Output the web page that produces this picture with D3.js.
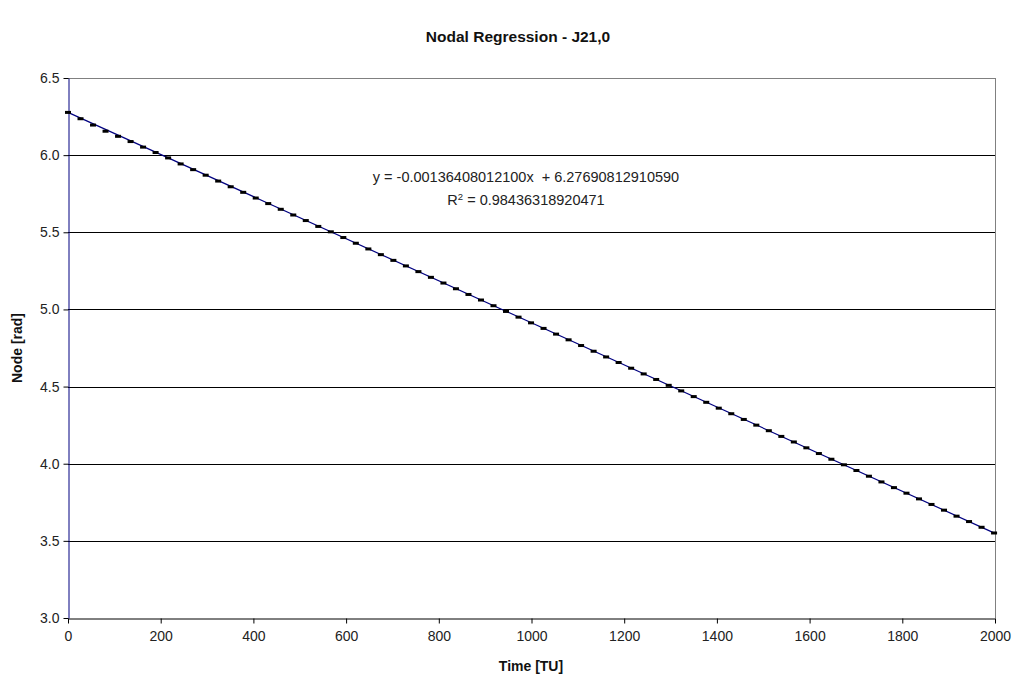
<!DOCTYPE html>
<html><head><meta charset="utf-8">
<script src="https://cdn.jsdelivr.net/npm/d3@7"></script>
<style>
html,body{margin:0;padding:0;background:#fff;}
text{font-family:"Liberation Sans",Arial,sans-serif;white-space:pre;}
</style></head>
<body>
<svg id="chart" width="1014" height="680"></svg>
<script>
const title = "Nodal Regression - J21,0";
const xTitle = "Time [TU]";
const yTitle = "Node [rad]";
const xTicks = [0,200,400,600,800,1000,1200,1400,1600,1800,2000];
const yTicks = [3.0,3.5,4.0,4.5,5.0,5.5,6.0,6.5];
const times = [0,27,54,81,108,135,162,189,216,243,270,297,324,351,378,405,432,459,486,513,540,567,594,621,648,675,702,729,756,783,810,837,864,891,918,945,972,999,1026,1053,1080,1107,1134,1161,1188,1215,1242,1269,1296,1323,1350,1377,1404,1431,1458,1485,1512,1539,1566,1593,1620,1647,1674,1701,1728,1755,1782,1809,1836,1863,1890,1917,1944,1971,1998];
const nodes = [6.277,6.236,6.195,6.155,6.122,6.088,6.052,6.017,5.982,5.943,5.906,5.870,5.832,5.795,5.759,5.722,5.686,5.649,5.612,5.576,5.538,5.503,5.466,5.429,5.392,5.355,5.318,5.282,5.245,5.208,5.171,5.134,5.097,5.061,5.024,4.987,4.950,4.913,4.877,4.840,4.803,4.766,4.729,4.692,4.656,4.619,4.582,4.546,4.508,4.472,4.435,4.398,4.360,4.324,4.287,4.250,4.214,4.177,4.141,4.103,4.066,4.029,3.993,3.956,3.919,3.882,3.845,3.809,3.772,3.736,3.699,3.660,3.625,3.588,3.551];
const slope = -0.00136408012100;
const intercept = 6.27690812910590;
const eqLine1 = "y = -0.00136408012100x  + 6.27690812910590";
const eqLine2a = "R";
const eqLine2b = "2";
const eqLine2c = " = 0.98436318920471";

const svg = d3.select("#chart");
const L = 68, R = 995, T = 78, B = 618;
const x = d3.scaleLinear().domain([0,2000]).range([L,R]);
const y = d3.scaleLinear().domain([3.0,6.5]).range([B,T]);

// gridlines
svg.append("g").selectAll("line").data(yTicks.filter(v=>v>3.0 && v<6.5)).join("line")
  .attr("x1",L).attr("x2",R).attr("y1",d=>Math.round(y(d))+0.5).attr("y2",d=>Math.round(y(d))+0.5)
  .attr("stroke","#000").attr("stroke-width",1);
// top and right border grey
svg.append("line").attr("x1",L).attr("x2",R).attr("y1",Math.round(y(6.5))+0.5).attr("y2",Math.round(y(6.5))+0.5).attr("stroke","#808080");
svg.append("line").attr("x1",Math.round(R)+0.5).attr("x2",Math.round(R)+0.5).attr("y1",T).attr("y2",B).attr("stroke","#808080");

// x axis
const xAxis = d3.axisBottom(x).tickValues(xTicks).tickSize(5).tickSizeOuter(0).tickFormat(d3.format("d"));
const gx = svg.append("g").attr("transform",`translate(0,${Math.round(B)+0.5})`).call(xAxis);
gx.select(".domain").attr("stroke","#000");
gx.selectAll(".tick line").attr("stroke","#000");
gx.selectAll(".tick text").attr("font-size",14).attr("fill","#222").attr("dy","1.0em").attr("font-family","Liberation Sans, Arial, sans-serif");

// y axis
const yAxis = d3.axisLeft(y).tickValues(yTicks).tickSize(5).tickSizeOuter(0).tickFormat(d3.format(".1f"));
const gy = svg.append("g").attr("transform",`translate(${Math.round(L)+0.5},0)`).call(yAxis);
gy.select(".domain").attr("stroke","#000080");
gy.selectAll(".tick line").attr("stroke","#000");
gy.selectAll(".tick text").attr("font-size",14).attr("fill","#222").attr("x",-9).attr("font-family","Liberation Sans, Arial, sans-serif");

// trendline
svg.append("line")
  .attr("x1",x(0)).attr("y1",y(intercept))
  .attr("x2",x(2000)).attr("y2",y(intercept+slope*2000))
  .attr("stroke","#000080").attr("stroke-width",1.2);

// markers (dash)
svg.append("g").selectAll("rect").data(times.map((t,i)=>[t,nodes[i]])).join("rect")
  .attr("x",d=>x(d[0])-3).attr("y",d=>y(d[1])-1.5).attr("width",6).attr("height",3).attr("fill","#000");

// title
svg.append("text").attr("x",518).attr("y",42).attr("text-anchor","middle").attr("font-size",15.5).attr("font-weight","bold").attr("fill","#111").text(title);
svg.append("text").attr("x",531).attr("y",671).attr("text-anchor","middle").attr("font-size",14).attr("font-weight","bold").attr("fill","#111").text(xTitle);
svg.append("text").attr("transform","translate(22,348) rotate(-90)").attr("text-anchor","middle").attr("font-size",14).attr("font-weight","bold").attr("fill","#111").text(yTitle);

// equation
svg.append("text").attr("x",526).attr("y",182).attr("text-anchor","middle").attr("font-size",14.5).attr("fill","#222").text(eqLine1);
const t2 = svg.append("text").attr("x",526).attr("y",205).attr("text-anchor","middle").attr("font-size",14.5).attr("fill","#222");
t2.append("tspan").text(eqLine2a);
t2.append("tspan").attr("dy",-5).attr("font-size",9.5).text(eqLine2b);
t2.append("tspan").attr("dy",5).text(eqLine2c);
</script>
</body></html>
